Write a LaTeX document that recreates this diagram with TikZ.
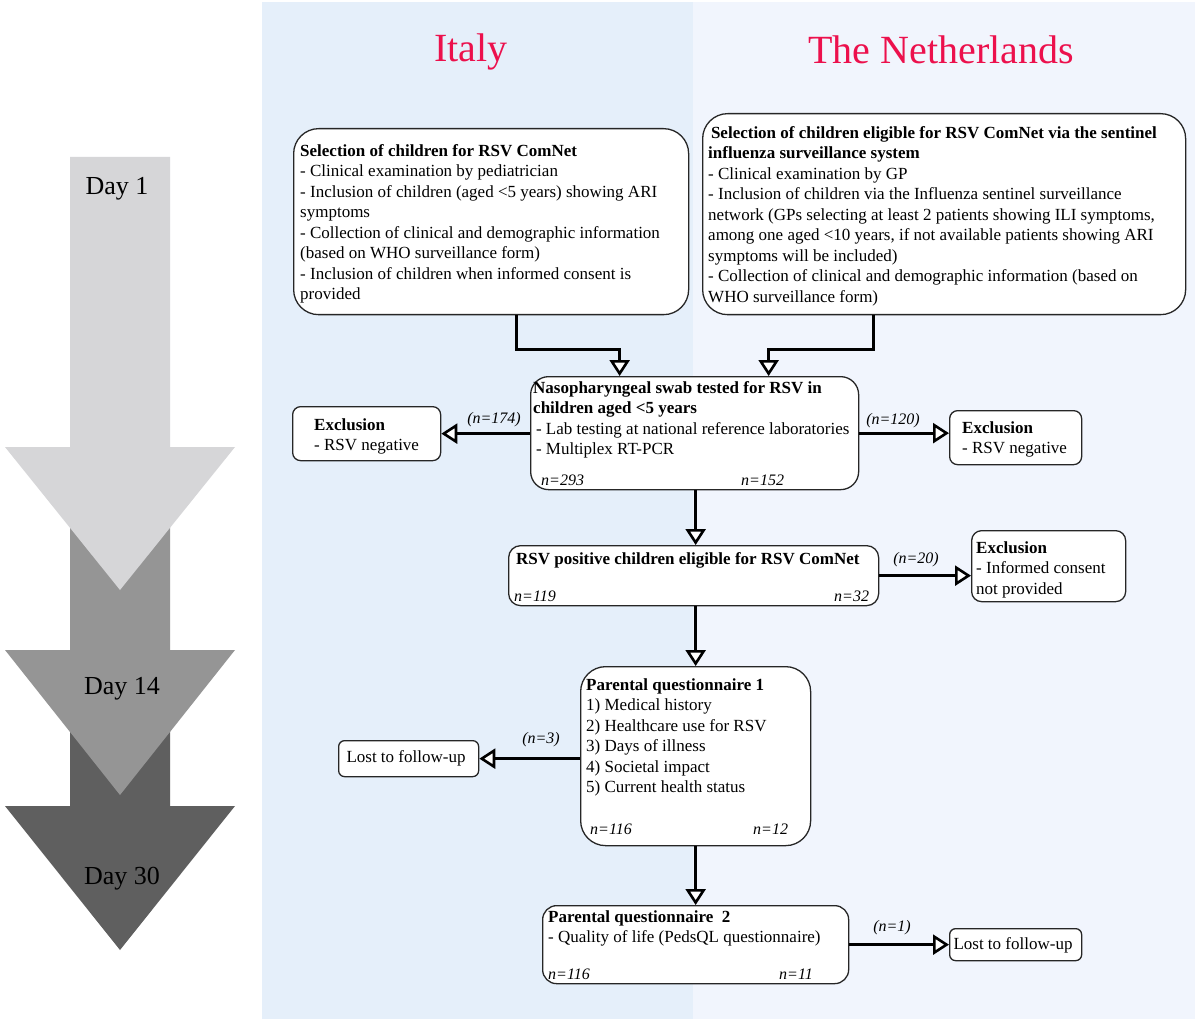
\documentclass[tikz,border=0pt]{standalone}
\usepackage{fontspec}
\setmainfont{Liberation Serif}
\usetikzlibrary{arrows.meta,calc}
\definecolor{panelL}{RGB}{229,239,250}
\definecolor{panelR}{RGB}{241,245,253}
\definecolor{arrA}{RGB}{214,214,216}
\definecolor{arrB}{RGB}{149,149,149}
\definecolor{arrC}{RGB}{95,95,95}
\definecolor{titlered}{RGB}{236,16,76}
\begin{document}
\begin{tikzpicture}[x=1pt,y=-1pt,
  box/.style={draw=black!85, line width=1.3pt, fill=white, rounded corners=#1, anchor=north west, inner sep=0pt},
  box/.default=20pt,
  txt/.style={anchor=north west, yshift=14.35pt, align=left, inner sep=0pt, font=\fontsize{17}{20.5}\selectfont},
  ctxt/.style={anchor=center, align=left, inner sep=0pt, font=\fontsize{17}{20.5}\selectfont},
  nlab/.style={anchor=base west, inner sep=0pt, font=\fontsize{16}{19}\selectfont\itshape},
  clab/.style={inner sep=0pt, font=\fontsize{16}{19}\selectfont\itshape},
  daylab/.style={inner sep=0pt, font=\fontsize{26}{30}\selectfont},
  ttl/.style={inner sep=0pt, text=titlered, font=\fontsize{40}{44}\selectfont},
  conn/.style={line width=3pt, -{Triangle[fill=white,length=16pt,width=20pt,line width=2.6pt]}}
]
\useasboundingbox (0,0) rectangle (1195,1019);
\fill[white] (0,0) rectangle (1195,1019);
\fill[panelL] (262,2) rectangle (693,1019);
\fill[panelR] (693,2) rectangle (1195,1019);

% time arrows
\fill[arrC] (70,650) -- (170,650) -- (170,806) -- (235,806) -- (120,950) -- (5,806) -- (70,806) -- cycle;
\fill[arrB] (70,450) -- (170,450) -- (170,650) -- (235,650) -- (120,795) -- (5,650) -- (70,650) -- cycle;
\fill[arrA] (70,157) -- (170,157) -- (170,447) -- (235,447) -- (120,590) -- (5,447) -- (70,447) -- cycle;
\node[daylab] (d1) at (117,189) {Day 1};
\node[daylab] (d14) at (122,689) {Day 14};
\node[daylab] (d30) at (122,879) {Day 30};

% titles
\node[ttl] (tIT) at (471,52) {Italy};
\node[ttl] (tNL) at (941,50) {The Netherlands};

% boxes
\node[box=25pt, minimum width=395pt, minimum height=186pt] (A) at (293,128) {};
\node[box=25pt, minimum width=483pt, minimum height=201pt] (B) at (702,113) {};
\node[box=18pt, minimum width=328pt, minimum height=113pt] (C) at (530,376) {};
\node[box=8pt, minimum width=148pt, minimum height=54pt] (XL) at (292,406) {};
\node[box=8pt, minimum width=132pt, minimum height=54pt] (XR) at (949,410) {};
\node[box=12pt, minimum width=370pt, minimum height=60pt] (D) at (508,545) {};
\node[box=10pt, minimum width=154pt, minimum height=71pt] (X3) at (971,530) {};
\node[box=25pt, minimum width=230pt, minimum height=179pt] (E) at (580,666) {};
\node[box=6pt, minimum width=140pt, minimum height=36pt] (L1) at (338,740) {};
\node[box=14pt, minimum width=306pt, minimum height=78pt] (F) at (542,905) {};
\node[box=6pt, minimum width=132pt, minimum height=32pt] (L2) at (949,928) {};

% texts
\node[txt] (tA) at (300,156) {\strut\textbf{Selection of children for RSV ComNet}\\
- Clinical examination by pediatrician\\
- Inclusion of children (aged <5 years) showing ARI\\
symptoms\\
- Collection of clinical and demographic information\\
(based on WHO surveillance form)\\
- Inclusion of children when informed consent is\\
provided};
\node[txt] (tB) at (708,138) {\strut\textbf{\,Selection of children eligible for RSV ComNet via the sentinel}\\
\textbf{influenza surveillance system}\\
- Clinical examination by GP\\
- Inclusion of children via the Influenza sentinel surveillance\\
network (GPs selecting at least 2 patients showing ILI symptoms,\\
among one aged <10 years, if not available patients showing ARI\\
symptoms will be included)\\
- Collection of clinical and demographic information (based on\\
WHO surveillance form)};
\node[txt] (tC) at (533,393) {\strut\textbf{Nasopharyngeal swab tested for RSV in}\\
\textbf{children aged <5 years}\\
\,- Lab testing at national reference laboratories\\
\,- Multiplex RT-PCR};
\node[nlab] (nC1) at (541,485) {n=293};
\node[nlab] (nC2) at (741,485) {n=152};
\node[txt] (tXL) at (314,430) {\strut\textbf{Exclusion}\\- RSV negative};
\node[txt] (tXR) at (962,433) {\strut\textbf{Exclusion}\\- RSV negative};
\node[txt] (tD) at (516,564) {\strut\textbf{RSV positive children eligible for RSV ComNet}};
\node[nlab] (nD1) at (514,601) {n=119};
\node[nlab] (nD2) at (834,601) {n=32};
\node[txt] (tX3) at (976,553) {\strut\textbf{Exclusion}\\- Informed consent\\not provided};
\node[txt] (tE) at (586,690) {\strut\textbf{Parental questionnaire 1}\\
1) Medical history\\
2) Healthcare use for RSV\\
3) Days of illness\\
4) Societal impact\\
5) Current health status};
\node[nlab] (nE1) at (590,834) {n=116};
\node[nlab] (nE2) at (753,834) {n=12};
\node[ctxt] (tL1) at (406,758) {Lost to follow-up};
\node[txt] (tF) at (548,922) {\strut\textbf{Parental questionnaire \ 2}\\
- Quality of life (PedsQL questionnaire)};
\node[nlab] (nF1) at (548,979) {n=116};
\node[nlab] (nF2) at (779,979) {n=11};
\node[ctxt] (tL2) at (1013,945) {Lost to follow-up};

% connectors
\draw[conn] ([xshift=25.5pt]A.south) -- ++(0,34) -| ([xshift=-75pt]C.north);
\draw[conn] ([xshift=-70.5pt]B.south) -- ++(0,34) -| ([xshift=74pt]C.north);
\draw[conn] (XL.east -| C.west) -- (XL.east);
\draw[conn] (C.east) -- (C.east -| XR.west);
\draw[conn] (E.north |- C.south) -- (E.north |- D.north);
\draw[conn] (D.east) -- (D.east -| X3.west);
\draw[conn] (E.north |- D.south) -- (E.north);
\draw[conn] (L1.east -| E.west) -- (L1.east);
\draw[conn] (E.south) -- (F.north);
\draw[conn] (F.east) -- (F.east -| L2.west);

% connector labels
\node[clab] (c1) at (494,420) {(n=174)};
\node[clab] (c2) at (893,421) {(n=120)};
\node[clab] (c3) at (916,560) {(n=20)};
\node[clab] (c4) at (541,740) {(n=3)};
\node[clab] (c5) at (892,928) {(n=1)};
\end{tikzpicture}
\end{document}
